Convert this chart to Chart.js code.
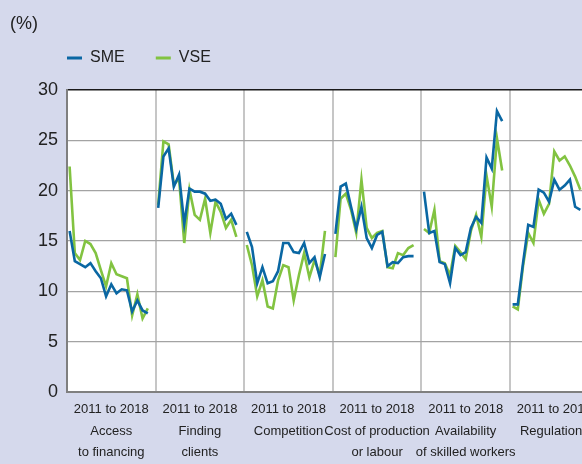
<!DOCTYPE html>
<html>
<head>
<meta charset="utf-8">
<script src="https://cdn.jsdelivr.net/npm/chart.js@4/dist/chart.umd.min.js"></script>
<style>
  html, body { margin: 0; padding: 0; background: #d5d9ec; overflow: hidden; width: 582px; height: 464px; }
  #wrap { position: absolute; left: 0; top: 0; width: 603px; height: 464px; }
</style>
</head>
<body>
<div id="wrap"><canvas id="c" width="603" height="464"></canvas></div>
<script>
// ---- Data (half-yearly survey results, 2011 to 2018, %) ----
const period = '2011 to 2018';
const categories = [
  ['Access', 'to financing'],
  ['Finding', 'clients'],
  ['Competition'],
  ['Cost of production', 'or labour'],
  ['Availability', 'of skilled workers'],
  ['Regulations']
];
const smeFinancing   = [16.0, 13.0, 12.7, 12.4, 12.8, 12.0, 11.3, 9.5, 10.7, 9.8, 10.2, 10.1, 8.0, 9.1, 8.1, 7.8];
const vseFinancing   = [22.4, 13.8, 13.1, 15.0, 14.7, 13.8, 12.1, 10.5, 12.8, 11.7, 11.5, 11.3, 7.6, 9.7, 7.3, 8.3];
const smeClients     = [18.3, 23.4, 24.2, 20.4, 21.6, 16.7, 20.2, 19.9, 19.9, 19.7, 19.0, 19.1, 18.7, 17.2, 17.7, 16.6];
const vseClients     = [18.6, 24.9, 24.6, 20.6, 21.2, 14.8, 20.1, 17.6, 17.1, 19.2, 15.8, 18.9, 17.9, 16.3, 17.1, 15.4];
const smeCompetition = [15.9, 14.4, 10.8, 12.4, 10.8, 11.0, 12.0, 14.8, 14.8, 13.9, 13.8, 14.8, 12.8, 13.4, 11.4, 13.7];
const vseCompetition = [14.6, 12.6, 9.5, 11.1, 8.5, 8.3, 11.1, 12.6, 12.4, 9.1, 11.6, 13.8, 11.4, 13.1, 11.6, 16.0];
const smeCost        = [15.7, 20.4, 20.7, 18.4, 16.2, 18.4, 15.3, 14.3, 15.6, 15.9, 12.5, 12.9, 12.8, 13.4, 13.5, 13.5];
const vseCost        = [13.4, 19.2, 19.7, 18.1, 15.8, 21.1, 16.3, 15.3, 15.8, 16.0, 12.4, 12.3, 13.8, 13.6, 14.3, 14.6];
const smeSkilled     = [19.9, 15.8, 16.0, 12.9, 12.7, 10.8, 14.3, 13.6, 13.9, 16.3, 17.4, 16.8, 23.3, 22.2, 27.9, 26.9];
const vseSkilled     = [16.2, 15.8, 18.1, 13.0, 12.8, 11.6, 14.5, 13.9, 13.2, 16.0, 17.6, 15.4, 21.5, 18.4, 25.2, 22.0];
const smeRegulations = [8.7, 8.7, 12.8, 16.6, 16.4, 20.1, 19.8, 18.9, 21.1, 20.1, 20.5, 21.1, 18.4, 18.1];
const vseRegulations = [8.5, 8.2, 12.5, 15.8, 14.8, 19.1, 17.7, 18.7, 23.9, 23.0, 23.4, 22.5, 21.4, 20.1];
const yTicks = [0, 5, 10, 15, 20, 25, 30];

const smePanels = [smeFinancing, smeClients, smeCompetition, smeCost, smeSkilled, smeRegulations];
const vsePanels = [vseFinancing, vseClients, vseCompetition, vseCost, vseSkilled, vseRegulations];

// each panel = 16 half-year slots + 1 empty slot as a gap
const SLOTS = 17, POINTS = 16, LABEL_SLOT = 8;
const labels = [], smeData = [], vseData = [];
categories.forEach((cat, i) => {
  for (let k = 0; k < SLOTS; k++) {
    labels.push(k === LABEL_SLOT ? [period, ...cat] : '');
    smeData.push(k < POINTS && smePanels[i][k] !== undefined ? smePanels[i][k] : null);
    vseData.push(k < POINTS && vsePanels[i][k] !== undefined ? vsePanels[i][k] : null);
  }
});

const FONT = "'Liberation Sans', Arial, sans-serif";
const SME_COLOR = '#0a67a3';
const VSE_COLOR = '#82c341';

const plotBg = {
  id: 'plotBg',
  beforeDraw(chart) {
    const a = chart.chartArea, ctx = chart.ctx;
    ctx.save();
    ctx.fillStyle = '#ffffff';
    ctx.fillRect(a.left, a.top, a.right - a.left, a.bottom - a.top);
    ctx.restore();
  }
};

new Chart(document.getElementById('c'), {
  type: 'line',
  data: {
    labels: labels,
    datasets: [
      { label: 'SME', data: smeData, borderColor: SME_COLOR, backgroundColor: SME_COLOR, borderWidth: 2.6, pointRadius: 0, tension: 0, spanGaps: false },
      { label: 'VSE', data: vseData, borderColor: VSE_COLOR, backgroundColor: VSE_COLOR, borderWidth: 2.6, pointRadius: 0, tension: 0, spanGaps: false }
    ]
  },
  options: {
    responsive: false,
    animation: false,
    events: [],
    layout: { padding: { left: 10, right: 0, top: 0, bottom: 0 } },
    plugins: {
      tooltip: { enabled: false },
      title: {
        display: true, text: '(%)', align: 'start', color: '#222',
        font: { family: FONT, size: 18, weight: 'normal', lineHeight: 1.2 },
        padding: { top: 13, bottom: 15.4 }
      },
      legend: {
        display: true, position: 'top', align: 'start', fullSize: false,
        labels: {
          color: '#222', boxWidth: 15, boxHeight: 3, padding: 0,
          font: { family: FONT, size: 16 },
          generateLabels(chart) {
            const items = Chart.defaults.plugins.legend.labels.generateLabels(chart);
            return items.map((it, i) => Object.assign(it, {
              lineWidth: 0,
              text: i === 0 ? it.text + '\u00a0\u00a0\u00a0\u00a0\u00a0\u00a0\u00a0' : it.text
            }));
          }
        }
      }
    },
    scales: {
      x: {
        type: 'category', position: 'bottom', offset: true,
        grid: {
          display: true, offset: true, drawTicks: false, lineWidth: 2,
          color: ctx => (ctx.index > 0 && ctx.index % SLOTS === 0) ? '#c6c6c6' : 'rgba(0,0,0,0)'
        },
        border: { display: true, color: '#7f7f7f', width: 2 },
        ticks: {
          autoSkip: false, maxRotation: 0, minRotation: 0, padding: 7, color: '#222',
          font: { family: FONT, size: 13, lineHeight: 1.65 }
        },
        afterFit(scale) { scale.height = 72; }
      },
      xt: {
        type: 'linear', position: 'top', min: 0, max: 1, display: true,
        grid: { display: false, drawTicks: false },
        ticks: { display: false },
        border: { display: true, color: '#1a1a1a', width: 1.5 },
        afterFit(scale) { scale.height = 14; }
      },
      y: {
        min: 0, max: 30,
        afterBuildTicks(scale) { scale.ticks = yTicks.map(v => ({ value: v })); },
        grid: {
          drawTicks: false, lineWidth: 1.3,
          color: ctx => (ctx.tick && (ctx.tick.value === 0 || ctx.tick.value === 30)) ? 'rgba(0,0,0,0)' : '#a3a3a3'
        },
        border: { display: true, color: '#7f7f7f', width: 2 },
        ticks: { padding: 9, color: '#222', font: { family: FONT, size: 18 } },
        afterFit(scale) { scale.width = 57; }
      }
    }
  },
  plugins: [plotBg]
});
</script>
</body>
</html>
